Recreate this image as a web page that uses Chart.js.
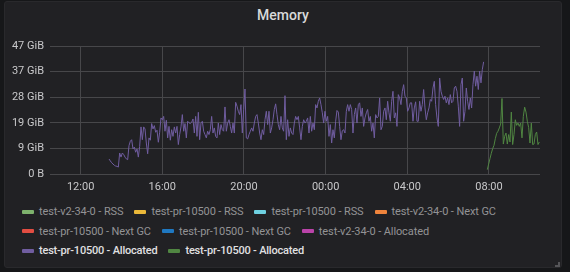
<!DOCTYPE html>
<html>
<head>
<meta charset="utf-8">
<script src="https://cdn.jsdelivr.net/npm/chart.js@4/dist/chart.umd.min.js"></script>
<style>
html, body { margin:0; padding:0; width:570px; height:272px; overflow:hidden; background:#161719; font-family:Roboto, "Noto Sans", sans-serif; }
#panel { position:absolute; left:4px; top:1px; width:556px; height:265px; background:#212124; border:1px solid #29292c; border-radius:3px; }
#title { position:absolute; left:4px; top:7px; width:558px; text-align:center; color:#d8d9da; font-size:14px; font-weight:500; line-height:16px; }
#chartWrap { position:absolute; left:0; top:0; width:570px; height:200px; }
#legend { position:absolute; left:22px; top:202px; width:540px; font-size:11px; letter-spacing:-0.1px; }
.row { display:flex; height:19.5px; align-items:center; }
.item { display:flex; align-items:center; margin-right:11px; color:#939395; white-space:nowrap; }
.item.on { color:#e0e0e2; font-weight:500; letter-spacing:-0.2px; }
.sw { width:12px; height:4px; border-radius:1px; margin-right:5px; }
#grip { position:absolute; left:555px; top:262px; width:3px; height:3px; border-right:2px solid #555558; border-bottom:2px solid #555558; }
</style>
</head>
<body>
<div id="panel"></div>
<div id="title">Memory</div>
<div id="chartWrap"><canvas id="line_memory" width="570" height="200"></canvas></div>
<div id="legend"></div>
<div id="grip"></div>
<script>
/*****
 data
******/
/* series names and colours, in legend order */
let seriesNames = [
    'test-v2-34-0 - RSS', 'test-pr-10500 - RSS', 'test-pr-10500 - RSS', 'test-v2-34-0 - Next GC',
    'test-pr-10500 - Next GC', 'test-pr-10500 - Next GC', 'test-v2-34-0 - Allocated',
    'test-pr-10500 - Allocated', 'test-pr-10500 - Allocated'
];
let seriesColors = [
    '#7EB26D', '#EAB839', '#6ED0E0', '#EF843C',
    '#E24D42', '#1F78C1', '#BA43A9',
    '#705DA0', '#508642'
];
let legendRows = [4, 3, 2];

/* x axis in hours since midnight of the first day */
let xTickValues = [12, 16, 20, 24, 28, 32];
let xTickLabels = ['12:00', '16:00', '20:00', '00:00', '04:00', '08:00'];
/* y axis in GB (1e9 bytes), labelled in GiB */
let yTickValues = [0, 10, 20, 30, 40, 50];
let yTickLabels = ['0 B', '9 GiB', '19 GiB', '28 GiB', '37 GiB', '47 GiB'];

/* sample interval, hours */
let sampleStep = 0.0653;

/* test-pr-10500 - Allocated (purple), GB */
let purpleStart = 13.39;
let purpleValues = [
    5.85, 5.1, 4.4, 3.9, 3.4, 3.1, 3.0, 2.7, 8.2, 6.6, 8.2, 7.6, 6.6, 5.9, 5.6, 11.1, 12.8, 13.4, 9.8, 10.5,
    8.5, 9.8, 6.6, 10.8, 18.4, 13.4, 18.4, 17.6, 12.1, 7.9, 14.1, 13.2, 19.7, 17.6, 18.9, 16.3, 17.1, 12.4, 16.3, 21.9,
    21.2, 22.5, 16.7, 21.0, 14.1, 18.6, 13.2, 17.3, 14.7, 18.4, 16.0, 18.6, 11.5, 15.4, 18.4, 23.2, 16.7, 19.7, 14.1, 20.6,
    20.0, 19.7, 20.2, 21.5, 16.0, 22.5, 14.7, 24.1,
    13.4, 19.9, 20.6, 16.7, 15.4, 14.1, 16.7, 15.4, 17.3, 22.5, 16.0, 18.0, 14.7, 14.1, 19.9, 15.4, 19.3, 17.3, 16.7, 26.2,
    16.7, 19.9, 21.2, 18.6, 16.0, 19.9, 16.0, 28.0, 26.5, 24.5, 23.2, 27.1, 16.0, 25.2, 33.2, 14.1, 13.7, 15.4, 16.7, 18.0,
    16.7, 19.9, 22.5, 23.2, 19.9, 16.0, 13.4, 17.3, 15.4, 21.2, 24.5, 19.3, 24.5, 16.0, 18.0, 21.2, 25.2, 27.4, 23.2, 19.3,
    17.3, 22.5, 18.0, 16.7, 30.6, 13.4, 21.2, 14.7,
    18.0, 16.0, 15.4, 19.9, 22.5, 21.2, 22.5, 18.0, 13.4, 18.6, 21.2, 19.9, 20.6, 21.9, 16.0, 22.5, 16.7, 19.9, 17.3, 27.1,
    25.8, 28.4, 29.7, 27.1, 23.9, 19.9, 24.5, 20.6, 22.5, 14.7, 19.3, 12.1, 17.3, 14.1, 20.6, 24.8, 24.2, 18.6, 13.4, 16.9,
    17.3, 16.0, 24.5, 27.1, 24.5, 27.1, 25.2, 16.0, 23.2, 25.8, 19.9, 27.1, 27.8, 22.5, 25.8, 18.6, 21.9, 23.9, 25.2, 20.6,
    22.5, 16.7, 19.9, 14.1, 23.2, 21.9, 22.5, 29.7,
    17.3, 18.6, 24.5, 25.8, 21.2, 28.4, 23.9, 20.6, 28.4, 32.3, 21.9, 23.9, 18.6, 31.0, 29.7, 27.1, 32.3, 34.9, 30.4, 29.7,
    24.5, 25.8, 27.8, 27.8, 20.6, 25.8, 28.2, 20.6, 20.6, 28.4, 24.5, 27.1, 33.0, 25.8, 21.2, 23.9, 25.8, 29.1, 28.4, 33.6,
    36.2, 27.1, 21.9, 18.6, 37.5, 32.3, 30.4, 29.1, 30.4, 27.8, 29.7, 27.1, 31.0, 27.8, 28.4, 33.6, 34.3, 32.3, 26.5, 18.6,
    34.9, 37.5, 20.6, 24.5, 33.6, 28.4, 25.2,
    29.7, 25.8, 34.9, 40.2, 34.3, 38.2, 33.0, 40.2, 35.6, 40.8, 43.8
];

/* test-pr-10500 - Allocated (green), GB */
let greenStart = 31.92;
let greenValues = [
    1.7, 3.9, 6.0, 8.1, 9.9, 11.2, 13.8, 15.9, 16.7, 18.0, 19.5, 29.5, 11.7, 14.7, 16.0, 11.7, 15.4, 12.5, 24.2, 11.5,
    15.4, 21.2, 19.0, 19.9, 18.6, 19.9, 14.1, 22.5, 26.1, 24.2, 20.6, 18.2, 12.1, 19.9, 11.5, 11.7, 15.4, 16.4, 11.5, 12.5
];


/*****
 func
******/
let makePoints = (start, values)=>{
    let points = [];
    for(let i = 0; i < values.length; i++){
        points.push({x: start + i*sampleStep, y: values[i]});
    };
    return points;
};

let makeLegend = ()=>{
    let legend = document.querySelector('#legend');
    let idx = 0;
    for(let r = 0; r < legendRows.length; r++){
        let row = document.createElement('div');
        row.className = 'row';
        for(let c = 0; c < legendRows[r]; c++){
            let item = document.createElement('div');
            item.className = (idx >= 7) ? 'item on' : 'item'; // series with data are highlighted
            let sw = document.createElement('span');
            sw.className = 'sw';
            sw.style.background = seriesColors[idx];
            let txt = document.createElement('span');
            txt.textContent = seriesNames[idx];
            item.appendChild(sw);
            item.appendChild(txt);
            row.appendChild(item);
            idx++;
        };
        legend.appendChild(row);
    };
};

let makeGraph = ()=>{
    let datasets = [];
    for(let i = 0; i < seriesNames.length; i++){
        let data = [];
        if(i === 7){ data = makePoints(purpleStart, purpleValues); }
        if(i === 8){ data = makePoints(greenStart, greenValues); }
        datasets.push({
            label: seriesNames[i],
            data: data,
            borderColor: seriesColors[i],
            backgroundColor: seriesColors[i],
            borderWidth: 1,
            pointRadius: 0,
            tension: 0,
            fill: false
        });
    };
    let gridColor = '#47474a';
    let tickFont  = {family: 'Roboto', size: 11};
    let ctx = document.querySelector('#line_memory').getContext('2d');
    let chart_memory = new Chart(ctx, {
        type: 'line',
        data: {datasets: datasets},
        options: {
            responsive: false,
            animation: false,
            layout: {padding: {left: 0, right: 30, top: 46, bottom: 0}},
            plugins: {
                legend: {display: false},
                title: {display: false},
                tooltip: {enabled: false}
            },
            scales: {
                x: {
                    type: 'linear',
                    min: 10.5,
                    max: 34.5,
                    grid: {color: gridColor, lineWidth: 1, drawTicks: false},
                    border: {display: false},
                    ticks: {
                        color: '#c8c8ca',
                        font: tickFont,
                        padding: 7,
                        maxRotation: 0,
                        autoSkip: false,
                        callback: (v)=>xTickLabels[xTickValues.indexOf(v)]
                    },
                    afterBuildTicks: (scale)=>{
                        scale.ticks = xTickValues.map((v)=>({value: v}));
                    },
                    afterFit: (scale)=>{ scale.height = 26; }
                },
                y: {
                    min: 0,
                    max: 50,
                    grid: {color: gridColor, lineWidth: 1, drawTicks: false},
                    border: {display: false},
                    ticks: {
                        color: '#c8c8ca',
                        font: tickFont,
                        padding: 6,
                        stepSize: 10,
                        callback: (v)=>yTickLabels[yTickValues.indexOf(v)]
                    },
                    afterFit: (scale)=>{ scale.width = 50; }
                }
            }
        }
    });
};


/*************
INITIALIZATION
**************/
makeLegend();
makeGraph();
</script>
</body>
</html>
